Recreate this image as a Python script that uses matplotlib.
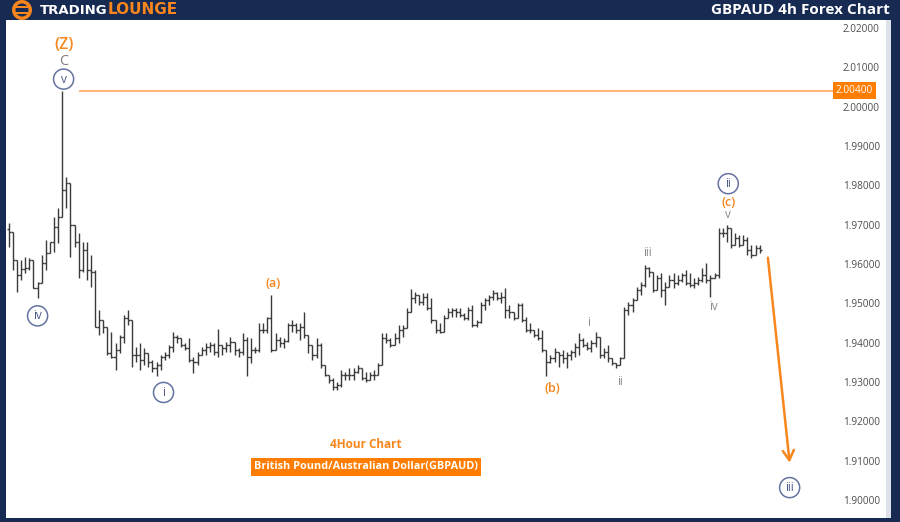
import matplotlib
matplotlib.use('Agg')
import matplotlib.pyplot as plt
from matplotlib.patches import Rectangle, Ellipse

NAVY = '#172a52'
ORANGE = '#f7861c'
BAR_COLOR = '#3a3a3a'
GRAY_LABEL = '#8c8c8c'
CIRCLE_EDGE = '#6473a0'
CIRCLE_TEXT = '#4b5a88'

# GBPAUD 4h bars
highs = [1.9705, 1.9682, 1.9611, 1.9611, 1.9618, 1.9616, 1.9611, 1.9555, 1.9623, 1.9661,
         1.9656, 1.9720, 1.9743, 2.0040, 1.9821, 1.9806, 1.9679, 1.9679, 1.9656, 1.9656,
         1.9623, 1.9585, 1.9483, 1.9453, 1.9440, 1.9428, 1.9400, 1.9420, 1.9471, 1.9483,
         1.9458, 1.9390, 1.9400, 1.9387, 1.9374, 1.9357, 1.9352, 1.9369, 1.9377, 1.9395,
         1.9428, 1.9420, 1.9412, 1.9400, 1.9412, 1.9364, 1.9377, 1.9390, 1.9400, 1.9402,
         1.9400, 1.9435, 1.9395, 1.9402, 1.9415, 1.9400, 1.9387, 1.9425, 1.9415, 1.9412,
         1.9390, 1.9450, 1.9450, 1.9466, 1.9522, 1.9425, 1.9415, 1.9412, 1.9450, 1.9458,
         1.9450, 1.9450, 1.9478, 1.9407, 1.9387, 1.9412, 1.9400, 1.9344, 1.9319, 1.9311,
         1.9301, 1.9331, 1.9326, 1.9336, 1.9336, 1.9344, 1.9336, 1.9326, 1.9326, 1.9331,
         1.9349, 1.9425, 1.9425, 1.9412, 1.9425, 1.9445, 1.9445, 1.9488, 1.9537, 1.9529,
         1.9522, 1.9527, 1.9527, 1.9514, 1.9453, 1.9450, 1.9471, 1.9488, 1.9488, 1.9488,
         1.9488, 1.9476, 1.9491, 1.9496, 1.9458, 1.9504, 1.9514, 1.9522, 1.9534, 1.9529,
         1.9529, 1.9539, 1.9496, 1.9478, 1.9501, 1.9501, 1.9466, 1.9450, 1.9433, 1.9438,
         1.9433, 1.9377, 1.9369, 1.9387, 1.9377, 1.9382, 1.9377, 1.9382, 1.9400, 1.9425,
         1.9412, 1.9402, 1.9407, 1.9428, 1.9415, 1.9387, 1.9395, 1.9362, 1.9349, 1.9364,
         1.9491, 1.9504, 1.9514, 1.9542, 1.9555, 1.9598, 1.9593, 1.9578, 1.9573, 1.9578,
         1.9555, 1.9573, 1.9578, 1.9573, 1.9578, 1.9585, 1.9578, 1.9565, 1.9567, 1.9590,
         1.9603, 1.9573, 1.9578, 1.9692, 1.9692, 1.9700, 1.9687, 1.9679, 1.9674, 1.9674,
         1.9669, 1.9649, 1.9649, 1.9649]
lows = [1.9644, 1.9585, 1.9529, 1.9560, 1.9578, 1.9585, 1.9539, 1.9514, 1.9552, 1.9585,
        1.9628, 1.9631, 1.9654, 1.9720, 1.9743, 1.9618, 1.9644, 1.9565, 1.9580, 1.9560,
        1.9542, 1.9440, 1.9420, 1.9425, 1.9369, 1.9362, 1.9331, 1.9374, 1.9400, 1.9445,
        1.9339, 1.9352, 1.9331, 1.9344, 1.9339, 1.9326, 1.9314, 1.9331, 1.9357, 1.9362,
        1.9377, 1.9400, 1.9390, 1.9382, 1.9352, 1.9324, 1.9344, 1.9369, 1.9369, 1.9377,
        1.9369, 1.9364, 1.9369, 1.9377, 1.9377, 1.9369, 1.9364, 1.9369, 1.9314, 1.9349,
        1.9374, 1.9377, 1.9425, 1.9425, 1.9377, 1.9382, 1.9390, 1.9387, 1.9402, 1.9428,
        1.9425, 1.9407, 1.9412, 1.9374, 1.9357, 1.9362, 1.9336, 1.9314, 1.9298, 1.9280,
        1.9280, 1.9288, 1.9306, 1.9306, 1.9306, 1.9324, 1.9306, 1.9301, 1.9306, 1.9306,
        1.9319, 1.9344, 1.9400, 1.9390, 1.9402, 1.9400, 1.9415, 1.9440, 1.9483, 1.9501,
        1.9496, 1.9496, 1.9483, 1.9450, 1.9425, 1.9425, 1.9433, 1.9463, 1.9466, 1.9466,
        1.9466, 1.9458, 1.9458, 1.9440, 1.9440, 1.9450, 1.9483, 1.9496, 1.9509, 1.9509,
        1.9501, 1.9463, 1.9463, 1.9458, 1.9471, 1.9453, 1.9428, 1.9425, 1.9415, 1.9407,
        1.9377, 1.9314, 1.9349, 1.9352, 1.9339, 1.9349, 1.9336, 1.9357, 1.9364, 1.9369,
        1.9390, 1.9382, 1.9377, 1.9390, 1.9362, 1.9362, 1.9352, 1.9344, 1.9336, 1.9357,
        1.9362, 1.9471, 1.9478, 1.9514, 1.9522, 1.9542, 1.9567, 1.9529, 1.9555, 1.9517,
        1.9496, 1.9542, 1.9539, 1.9547, 1.9555, 1.9547, 1.9542, 1.9539, 1.9547, 1.9555,
        1.9552, 1.9517, 1.9565, 1.9565, 1.9669, 1.9656, 1.9641, 1.9649, 1.9644, 1.9649,
        1.9623, 1.9616, 1.9631, 1.9628]
closes = [1.9682, 1.9611, 1.9573, 1.9588, 1.9590, 1.9611, 1.9539, 1.9552, 1.9603, 1.9628,
          1.9656, 1.9694, 1.9720, 1.9788, 1.9806, 1.9700, 1.9656, 1.9585, 1.9636, 1.9585,
          1.9580, 1.9440, 1.9458, 1.9440, 1.9374, 1.9364, 1.9382, 1.9415, 1.9463, 1.9458,
          1.9369, 1.9369, 1.9357, 1.9374, 1.9352, 1.9336, 1.9344, 1.9364, 1.9369, 1.9390,
          1.9415, 1.9412, 1.9395, 1.9387, 1.9357, 1.9352, 1.9369, 1.9382, 1.9390, 1.9395,
          1.9377, 1.9395, 1.9387, 1.9395, 1.9402, 1.9382, 1.9377, 1.9407, 1.9364, 1.9382,
          1.9382, 1.9433, 1.9433, 1.9463, 1.9382, 1.9407, 1.9400, 1.9405, 1.9445, 1.9445,
          1.9433, 1.9440, 1.9420, 1.9395, 1.9369, 1.9395, 1.9344, 1.9319, 1.9306, 1.9286,
          1.9293, 1.9319, 1.9319, 1.9319, 1.9326, 1.9336, 1.9311, 1.9306, 1.9319, 1.9319,
          1.9344, 1.9412, 1.9407, 1.9395, 1.9412, 1.9433, 1.9438, 1.9478, 1.9514, 1.9522,
          1.9504, 1.9517, 1.9488, 1.9458, 1.9433, 1.9428, 1.9463, 1.9478, 1.9483, 1.9478,
          1.9471, 1.9463, 1.9483, 1.9445, 1.9453, 1.9496, 1.9509, 1.9517, 1.9527, 1.9514,
          1.9517, 1.9483, 1.9478, 1.9463, 1.9496, 1.9458, 1.9433, 1.9433, 1.9420, 1.9412,
          1.9382, 1.9352, 1.9362, 1.9377, 1.9369, 1.9362, 1.9369, 1.9377, 1.9390, 1.9407,
          1.9395, 1.9387, 1.9400, 1.9415, 1.9369, 1.9377, 1.9362, 1.9349, 1.9344, 1.9362,
          1.9483, 1.9496, 1.9509, 1.9534, 1.9547, 1.9590, 1.9580, 1.9534, 1.9565, 1.9534,
          1.9542, 1.9560, 1.9552, 1.9560, 1.9573, 1.9552, 1.9547, 1.9552, 1.9560, 1.9573,
          1.9560, 1.9565, 1.9573, 1.9679, 1.9679, 1.9692, 1.9649, 1.9666, 1.9649, 1.9661,
          1.9636, 1.9623, 1.9641, 1.9636]
first_open = 1.9690
opens = [first_open] + closes[:-1]

peak_level = 2.0040
peak_bar = 13
y_ticks = [1.90, 1.91, 1.92, 1.93, 1.94, 1.95, 1.96, 1.97, 1.98, 1.99, 2.00, 2.01, 2.02]

# projected wave (iii) leg: (bar index, price)
proj_start = (185.0, 1.9616)
proj_end = (190.3, 1.9095)

# (text, bar, side, offset pt, dx pt, style)
wave_labels = [
    ('(Z)', 13, 'high', 33, 1, 'orange_big'),
    ('C', 13, 'high', 21.5, 1, 'gray_big'),
    ('v', 13, 'high', 8.5, 1, 'circle'),
    ('iv', 7, 'low', 13, 0, 'circle'),
    ('i', 36, 'low', 11.5, 5, 'circle'),
    ('(a)', 64, 'high', 8, 1, 'orange'),
    ('(b)', 131, 'low', 8.5, 4, 'orange'),
    ('i', 141, 'high', 14, 1, 'gray'),
    ('ii', 148, 'low', 10, 3, 'gray'),
    ('iii', 155, 'high', 8.5, 2, 'gray'),
    ('iv', 171, 'low', 7, 2, 'gray'),
    ('v', 175, 'high', 7, 1, 'gray'),
    ('(c)', 175, 'high', 16, 1, 'orange'),
    ('ii', 175, 'high', 29.5, 1, 'circle'),
]

W, H = 900, 522
fig = plt.figure(figsize=(W / 100, H / 100), dpi=100)
fig.patch.set_facecolor(NAVY)

# white chart panel + grey strip at the right
fig.patches.append(Rectangle((6 / W, 4 / H), 880 / W, 498 / H, transform=fig.transFigure,
                             facecolor='white', edgecolor='none', zorder=-2))
fig.patches.append(Rectangle((886 / W, 4 / H), 5 / W, 498 / H, transform=fig.transFigure,
                             facecolor='#dde1ea', edgecolor='none', zorder=-2))

ax = fig.add_axes([6 / W, 4 / H, 830 / W, 498 / H])
ax.set_zorder(3)
ax.set_facecolor('none')
for s in ax.spines.values():
    s.set_visible(False)

n = len(closes)
idx = list(range(n))
bar_top = [max(h, o) for h, o in zip(highs, opens)]
bar_bot = [min(l, o) for l, o in zip(lows, opens)]
ax.vlines(idx, bar_bot, bar_top, color=BAR_COLOR, lw=1.0)
ax.hlines(opens, [i - 0.5 for i in idx], idx, color=BAR_COLOR, lw=1.0)
ax.hlines(closes, idx, [i + 0.5 for i in idx], color=BAR_COLOR, lw=1.0)

ax.set_xlim(-0.7, 201.6)
ax.set_ylim(1.89542, 2.02203)

ax.set_xticks([])
ax.yaxis.tick_right()
ax.set_yticks(y_ticks)
ax.set_yticklabels(['{:.5f}'.format(v) for v in y_ticks])
ax.tick_params(axis='y', length=0, pad=5, labelsize=7.2, labelcolor='#4d4d4d')
for lab in ax.get_yticklabels():
    lab.set_fontfamily('Open Sans')

# peak level line and price tag
ax.hlines(peak_level, peak_bar + 4, 201.6, color='#ffa04f', lw=1.1)
ax.annotate('{:.5f}'.format(peak_level), xy=(1.0, peak_level), xycoords=('axes fraction', 'data'),
            xytext=(0, 0), textcoords='offset points', ha='left', va='center',
            fontsize=7.3, color='white', family='Open Sans', annotation_clip=False,
            bbox=dict(boxstyle='square,pad=0.3', fc='#ff7d00', ec='none'))

# projection arrow
ax.annotate('', xy=proj_end, xytext=proj_start,
            arrowprops=dict(arrowstyle='->,head_length=0.7,head_width=0.4',
                            color=ORANGE, lw=1.8, shrinkA=0, shrinkB=0),
            annotation_clip=False)

circle_style = dict(fontsize=8.5, color=CIRCLE_TEXT,
                    bbox=dict(boxstyle='circle,pad=0.3', fc='white', ec=CIRCLE_EDGE, lw=1.1))
ax.annotate('iii', xy=proj_end, xytext=(0, -18), textcoords='offset points',
            ha='center', va='center', family='Open Sans', annotation_clip=False,
            **circle_style)

styles = {
    'orange_big': dict(fontsize=11.5, color=ORANGE, fontweight='semibold'),
    'gray_big': dict(fontsize=10.5, color='#7d7d7d'),
    'orange': dict(fontsize=9, color=ORANGE, fontweight='semibold'),
    'gray': dict(fontsize=8.5, color=GRAY_LABEL),
    'circle': circle_style,
}
for text, b, side, off, dx, st in wave_labels:
    y = highs[b] if side == 'high' else lows[b]
    dy = off if side == 'high' else -off
    ax.annotate(text, xy=(b, y), xytext=(dx, dy), textcoords='offset points',
                ha='center', va='center', family='Open Sans', annotation_clip=False,
                **styles[st])

# chart captions
fig.text(366 / W, 1 - 444 / H, '4Hour Chart', ha='center', va='center', fontsize=8.5,
         color=ORANGE, fontweight='bold', family='Open Sans')
fig.text(366 / W, 1 - 467 / H, 'British Pound/Australian Dollar(GBPAUD)', ha='center',
         va='center', fontsize=7.8, color='white', fontweight='bold', family='Open Sans',
         bbox=dict(boxstyle='square,pad=0.3', fc='#ff7d00', ec='none'))

# header: logo and title
fig.patches.append(Ellipse((22 / W, 1 - 10 / H), 20 / W, 20 / H, transform=fig.transFigure,
                           facecolor='#f7861c', edgecolor='none'))
fig.patches.append(Ellipse((22 / W, 1 - 10 / H), 13 / W, 13 / H, transform=fig.transFigure,
                           facecolor=NAVY, edgecolor='none'))
for yy in (7, 13):
    fig.patches.append(Rectangle((15 / W, 1 - (yy + 1.2) / H), 14 / W, 2.4 / H,
                                 transform=fig.transFigure, facecolor='#f7861c', edgecolor='none'))
fig.text(40 / W, 1 - 10 / H, 'TRADING', ha='left', va='center', fontsize=9.5,
         color='white', fontweight='bold', family='DejaVu Sans')
fig.text(108 / W, 1 - 10 / H, 'LOUNGE', ha='left', va='center', fontsize=11,
         color=ORANGE, fontweight='bold', family='DejaVu Sans')
fig.text(890 / W, 1 - 10 / H, 'GBPAUD 4h Forex Chart', ha='right', va='center',
         fontsize=11, color='white', fontweight='bold', family='Open Sans')

fig.savefig('out.png', dpi=100, facecolor=fig.get_facecolor())
